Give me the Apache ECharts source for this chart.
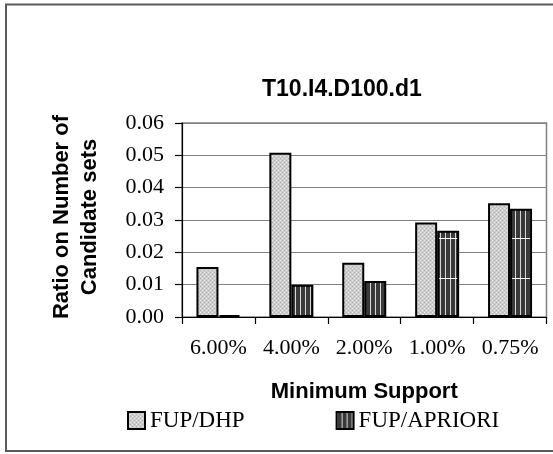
<!DOCTYPE html>
<html>
<head>
<meta charset="utf-8">
<script src="https://cdn.jsdelivr.net/npm/echarts@6/dist/echarts.min.js"></script>
<style>
html,body{margin:0;padding:0;background:#fff;}
#chart{width:553px;height:454px;}
</style>
</head>
<body>
<div id="chart"></div>
<script>
// ---- data ----
var categories = ['6.00%', '4.00%', '2.00%', '1.00%', '0.75%'];
var fupDhp = [0.0155, 0.0508, 0.0168, 0.0292, 0.0352];
var fupApriori = [0.0006, 0.0100, 0.0111, 0.0267, 0.0335];
var seriesNames = ['FUP/DHP', 'FUP/APRIORI'];
var titleText = 'T10.I4.D100.d1';
var xTitle = 'Minimum Support';
var yTitle = 'Ratio on Number of\nCandidate sets';

// ---- fill patterns ----
function dottedPattern() {
  var c = document.createElement('canvas');
  c.width = 4; c.height = 4;
  var g = c.getContext('2d');
  g.fillStyle = '#cccccc'; g.fillRect(0, 0, 4, 4);
  g.fillStyle = '#eeeeee';
  g.fillRect(0, 0, 1, 1); g.fillRect(2, 2, 1, 1);
  g.fillStyle = '#b4b4b4';
  g.fillRect(2, 0, 1, 1); g.fillRect(0, 2, 1, 1);
  return c;
}
function stripePattern() {
  var c = document.createElement('canvas');
  c.width = 5; c.height = 40;
  var g = c.getContext('2d');
  g.fillStyle = '#3a3a3a'; g.fillRect(0, 0, 5, 40);
  g.fillStyle = '#d8d8d8'; g.fillRect(0, 0, 1, 40);
  g.fillStyle = '#ffffff'; g.fillRect(0, 38, 5, 1);
  return c;
}

var chart = echarts.init(document.getElementById('chart'), null, {renderer: 'canvas'});
var serif = 'Liberation Serif, Times New Roman, serif';
var sans = 'Liberation Sans, Arial, sans-serif';

chart.setOption({
  animation: false,
  backgroundColor: '#ffffff',
  title: {
    text: titleText,
    left: 262,
    top: 78,
    padding: 0,
    textStyle: {fontFamily: sans, fontWeight: 'bold', fontSize: 23, color: '#000'}
  },
  legend: {
    left: 127,
    top: 409,
    padding: 0,
    itemWidth: 17,
    itemHeight: 17,
    itemGap: 91,
    icon: 'rect',
    textStyle: {fontFamily: serif, fontSize: 23, color: '#000'},
    data: seriesNames
  },
  grid: {
    left: 182,
    top: 123,
    right: 6.5,
    bottom: 137,
    show: true,
    borderColor: '#808080',
    borderWidth: 1.5,
    backgroundColor: 'transparent'
  },
  xAxis: {
    type: 'category',
    data: categories,
    name: xTitle,
    nameLocation: 'middle',
    nameGap: 64,
    nameTextStyle: {fontFamily: sans, fontWeight: 'bold', fontSize: 22, color: '#000'},
    axisLine: {lineStyle: {color: '#000', width: 1.2}},
    axisTick: {show: true, length: 7, lineStyle: {color: '#000', width: 1.2}},
    axisLabel: {fontFamily: serif, fontSize: 22, color: '#000', margin: 20, interval: 0},
    splitLine: {show: false}
  },
  yAxis: {
    type: 'value',
    min: 0,
    max: 0.06,
    interval: 0.01,
    name: yTitle,
    nameLocation: 'middle',
    nameRotate: 90,
    nameGap: 78,
    nameTextStyle: {fontFamily: sans, fontWeight: 'bold', fontSize: 22, lineHeight: 28, color: '#000', padding: [0, 0, 0, 6]},
    axisLine: {show: true, lineStyle: {color: '#000', width: 1.2}},
    axisTick: {show: true, length: 7, lineStyle: {color: '#000', width: 1.2}},
    axisLabel: {
      fontFamily: serif, fontSize: 22, color: '#000', margin: 18,
      formatter: function (v) { return v.toFixed(2); }
    },
    splitLine: {show: true, lineStyle: {color: '#808080', width: 1.2}}
  },
  series: [
    {
      name: seriesNames[0],
      type: 'bar',
      data: fupDhp,
      barWidth: 22,
      barGap: '0%',
      itemStyle: {color: {image: dottedPattern(), repeat: 'repeat'}, borderColor: '#000', borderWidth: 2}
    },
    {
      name: seriesNames[1],
      type: 'bar',
      data: fupApriori,
      barWidth: 22,
      barGap: '0%',
      itemStyle: {color: {image: stripePattern(), repeat: 'repeat'}, borderColor: '#000', borderWidth: 2}
    }
  ],
  graphic: [
    {
      type: 'rect',
      silent: true,
      z: 100,
      shape: {x: 6, y: 4.5, width: 600, height: 446.5},
      style: {fill: 'none', stroke: '#5a5a5a', lineWidth: 2}
    }
  ]
});
</script>
</body>
</html>
